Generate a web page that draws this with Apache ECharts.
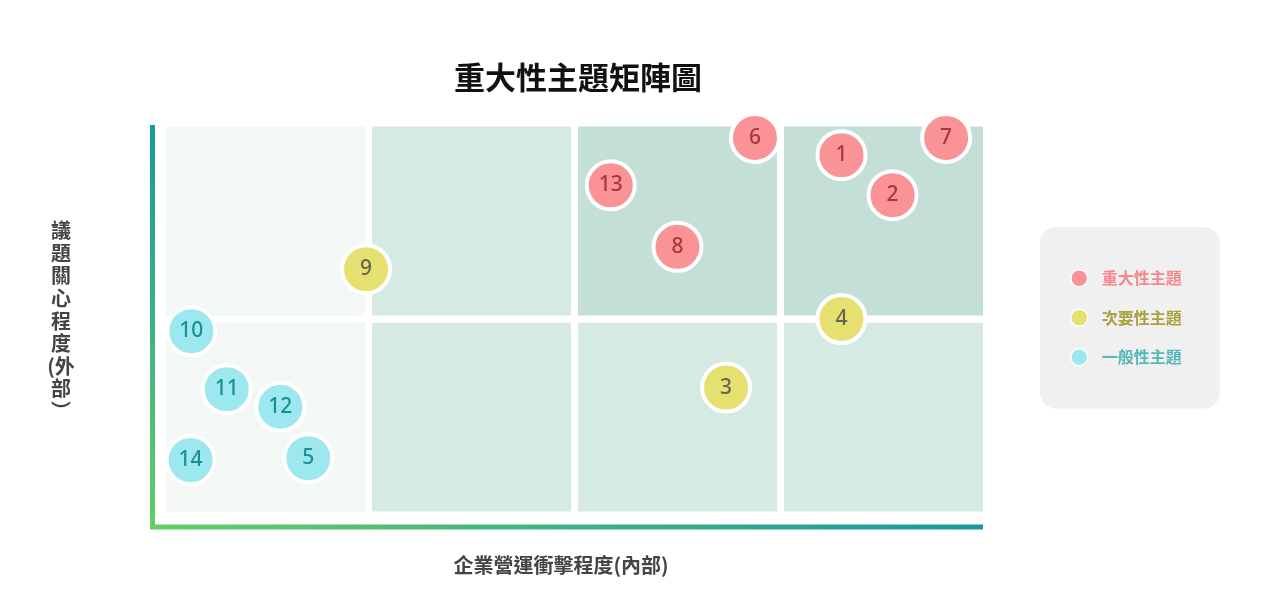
<!DOCTYPE html>
<html>
<head>
<meta charset="utf-8">
<title>重大性主題矩陣圖</title>
<script src="https://cdn.jsdelivr.net/npm/echarts@6/dist/echarts.min.js"></script>
<style>
  html, body { margin: 0; padding: 0; background: #fff; }
  #chart { width: 1280px; height: 600px; }
</style>
</head>
<body>
<div id="chart"></div>
<script>
// column / row boundaries of the matrix (axis units)
var xBounds = [0, 25, 50, 75, 100];
var yBounds = [0, 50, 100];

var seriesNames = ['重大性主題', '次要性主題', '一般性主題'];
var xName = '企業營運衝擊程度(內部)';
var yNameLines = ['議', '題', '關', '心', '程', '度', '(外', '部', '︶'];

// [x (內部衝擊), y (外部關心), 編號]
var majorTopics = [
    [82.4, 91.8, 1], [88.6, 81.6, 2], [71.9, 96.2, 6],
    [95.1, 96.2, 7], [62.5, 68.4, 8], [54.4, 84.1, 13]
];
var minorTopics = [
    [68.4, 32.5, 3], [82.4, 50.0, 4], [24.7, 62.7, 9]
];
var generalTopics = [
    [17.7, 14.5, 5], [3.5, 46.9, 10], [7.8, 32.1, 11],
    [14.3, 27.6, 12], [3.4, 14.0, 14]
];

var dotColors = ['#f99396', '#e6e070', '#9ce8ee'];
var numColors = ['#a8383c', '#66664f', '#1a8f96'];
var legendColors = ['#f7878c', '#a9a13d', '#56b7b9'];

function cellColor(col, row) {
    if (col === 0) return '#f3f7f6';
    if (row === 1 && col >= 2) return '#c3dfd7';
    return '#d6eae4';
}

// build the 8 background cells
var cells = [];
for (var c = 0; c < xBounds.length - 1; c++) {
    for (var r = 0; r < yBounds.length - 1; r++) {
        cells.push([
            { xAxis: xBounds[c], yAxis: yBounds[r], itemStyle: { color: cellColor(c, r) } },
            { xAxis: xBounds[c + 1], yAxis: yBounds[r + 1] }
        ]);
    }
}

function makeSeries(idx, data) {
    return {
        name: seriesNames[idx],
        type: 'scatter',
        data: data,
        symbol: 'circle',
        symbolSize: 48,
        clip: false,
        z: 3,
        itemStyle: {
            color: dotColors[idx],
            borderColor: '#fff',
            borderWidth: 4,
            opacity: 1
        },
        label: {
            show: true,
            position: 'inside',
            formatter: function (p) { return p.value[2]; },
            color: numColors[idx],
            fontSize: 21,
            fontWeight: 500,
            fontFamily: 'Noto Sans'
        },
        emphasis: { disabled: true }
    };
}

var series = [
    makeSeries(0, majorTopics),
    makeSeries(1, minorTopics),
    makeSeries(2, generalTopics)
];
series.unshift({
    type: 'scatter',
    data: [],
    silent: true,
    z: 1,
    markArea: {
        silent: true,
        itemStyle: { borderColor: '#fff', borderWidth: 7 },
        data: cells
    }
});

var chart = echarts.init(document.getElementById('chart'));

chart.setOption({
    animation: false,
    textStyle: { fontFamily: 'Noto Sans CJK TC' },
    title: {
        text: '重大性主題矩陣圖',
        left: 449,
        top: 57,
        textStyle: { fontSize: 31, fontWeight: 'bold', color: '#111' }
    },
    legend: {
        orient: 'vertical',
        left: 1040,
        top: 227,
        padding: [42, 38, 42, 30],
        backgroundColor: '#f0f0f0',
        borderRadius: 16,
        itemWidth: 17,
        itemHeight: 17,
        itemGap: 21,
        icon: 'circle',
        itemStyle: { borderColor: '#fff', borderWidth: 1.5 },
        textStyle: { fontSize: 16, fontWeight: 'bold', padding: [0, 0, 0, 9] },
        data: seriesNames.map(function (n, i) {
            return { name: n, textStyle: { color: legendColors[i] } };
        }),
        selectedMode: false
    },
    grid: { left: 162.5, right: 293.5, top: 123, bottom: 85 },
    xAxis: {
        type: 'value',
        min: 0,
        max: 100,
        interval: 25,
        name: xName,
        nameLocation: 'middle',
        nameGap: 40,
        nameTextStyle: { fontSize: 20, fontWeight: 'bold', color: '#444', padding: [0, 27, 0, 0] },
        axisLine: { show: false },
        axisTick: { show: false },
        axisLabel: { show: false },
        splitLine: { show: false }
    },
    yAxis: {
        type: 'value',
        min: 0,
        max: 100,
        interval: 50,
        axisLine: { show: false },
        axisTick: { show: false },
        axisLabel: { show: false },
        splitLine: { show: false }
    },
    graphic: [
        {
            type: 'text', z: 10,
            style: {
                text: yNameLines.join('\n'),
                x: 61,
                y: 321,
                align: 'center',
                verticalAlign: 'middle',
                lineHeight: 22.6,
                fill: '#444',
                font: 'bold 20px "Noto Sans CJK TC"'
            }
        },
        {
            type: 'rect', z: 10,
            shape: { x: 150, y: 125, width: 5, height: 404 },
            style: {
                fill: new echarts.graphic.LinearGradient(0, 0, 0, 1, [
                    { offset: 0, color: '#18999f' },
                    { offset: 1, color: '#66cc66' }
                ])
            }
        },
        {
            type: 'rect', z: 10,
            shape: { x: 150, y: 524.5, width: 833, height: 5 },
            style: {
                fill: new echarts.graphic.LinearGradient(0, 0, 1, 0, [
                    { offset: 0, color: '#66cc66' },
                    { offset: 1, color: '#18999f' }
                ])
            }
        }
    ],
    series: series
});
</script>
</body>
</html>
